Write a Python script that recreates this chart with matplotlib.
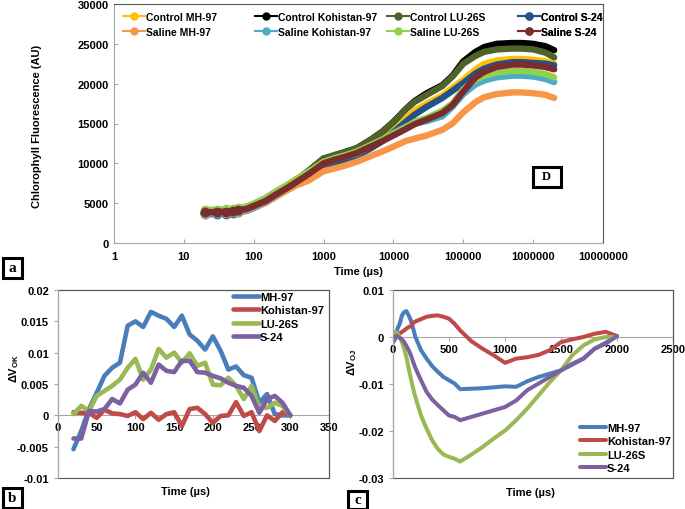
import numpy as np
import matplotlib
matplotlib.use("Agg")
import matplotlib.pyplot as plt
from matplotlib.patches import Rectangle
from matplotlib.lines import Line2D

plt.rcParams['font.family'] = ['Liberation Sans', 'DejaVu Sans']
plt.rcParams['font.weight'] = 'bold'
plt.rcParams['mathtext.default'] = 'regular'

# ---- panel a: OJIP transients ----
t_ojip = [20, 30, 40, 50, 60, 80, 100, 150, 200, 300, 400, 600, 1000, 1500, 2000, 3000,
          5000, 7000, 10000, 15000, 20000, 30000, 50000, 70000, 100000, 150000, 200000,
          300000, 500000, 700000, 1000000, 1500000, 2000000]

ctrl_mh = [3800, 3850, 3900, 3950, 4050, 4250, 4550, 5200, 5900, 6900, 7600, 8700, 10300, 10800, 11100, 11600,
           12600, 13300, 14200, 15600, 16600, 17500, 18500, 19500, 20500, 21800, 22500,
           22900, 23100, 23100, 23000, 22800, 22500]
ctrl_koh = [3800, 3850, 3900, 3950, 4050, 4250, 4600, 5300, 6000, 7000, 7800, 9000, 10600, 11000, 11400, 11900,
            13100, 14000, 15200, 16800, 17800, 18800, 19800, 21000, 22800, 24000, 24600,
            25000, 25100, 25100, 25000, 24700, 24200]
ctrl_lu = [3850, 3900, 3950, 4000, 4100, 4300, 4700, 5400, 6100, 7100, 7900, 9000, 10600, 11100, 11400, 11900,
           13100, 14000, 15200, 16800, 17700, 18600, 19700, 20900, 22500, 23500, 24000,
           24300, 24400, 24400, 24300, 23900, 23300]
ctrl_s24 = [3600, 3650, 3700, 3750, 3850, 4050, 4400, 5100, 5800, 6800, 7600, 8700, 9800, 10100, 10400, 10900,
            12000, 12800, 13900, 15200, 16100, 17100, 18200, 19100, 20100, 21300, 21900,
            22400, 22700, 22700, 22600, 22500, 22300]
sal_mh = [3700, 3750, 3800, 3850, 3900, 4100, 4450, 5050, 5700, 6600, 7200, 7800, 9000, 9400, 9700, 10200,
          11000, 11500, 12100, 12800, 13100, 13500, 14200, 15000, 16400, 17700, 18300,
          18700, 18900, 18900, 18800, 18600, 18200]
sal_koh = [3750, 3800, 3850, 3900, 4000, 4200, 4550, 5200, 5900, 6900, 7600, 8700, 10000, 10500, 10800, 11200,
           12300, 13000, 13800, 14600, 15000, 15300, 15900, 17100, 18700, 19900, 20400,
           20800, 21000, 21000, 20900, 20600, 20200]
sal_lu = [4150, 4200, 4250, 4300, 4400, 4600, 4950, 5700, 6400, 7300, 8000, 8900, 10200, 10700, 11000, 11500,
          12400, 13000, 13700, 14500, 15200, 15700, 16600, 17500, 19300, 20500, 21000,
          21400, 21600, 21600, 21500, 21200, 20800]
sal_s24 = [3850, 3900, 3950, 4000, 4100, 4300, 4650, 5300, 6000, 6900, 7600, 8600, 10000, 10500, 10800, 11300,
           12200, 12800, 13500, 14300, 14900, 15500, 16300, 17300, 19000, 20800, 21500,
           22100, 22400, 22400, 22300, 22100, 21800]

ojip_names = ['Control MH-97', 'Control Kohistan-97', 'Control LU-26S', 'Control S-24',
              'Saline MH-97', 'Saline Kohistan-97', 'Saline LU-26S', 'Saline S-24']
ojip_series = [ctrl_mh, ctrl_koh, ctrl_lu, ctrl_s24, sal_mh, sal_koh, sal_lu, sal_s24]
ojip_colors = ['#FFC000', '#000000', '#4F6228', '#24508C',
               '#F79646', '#4BACC6', '#92D050', '#7B2C2C']
top_xticks = [1, 10, 100, 1000, 10000, 100000, 1000000, 10000000]
top_yticks = [0, 5000, 10000, 15000, 20000, 25000, 30000]

# ---- panel b: delta V_OK ----
t_ok = [20, 30, 40, 50, 60, 70, 80, 90, 100, 110, 120, 130, 140, 150, 160, 170, 180, 190,
        200, 210, 220, 230, 240, 250, 260, 270, 280, 290, 300]
ok_mh = [-0.0054, -0.0025, 0.001, 0.0036, 0.0063, 0.0076, 0.0084, 0.0143, 0.015, 0.0141, 0.0165,
         0.0159, 0.0154, 0.0141, 0.0159, 0.0129, 0.0119, 0.0105, 0.0126, 0.0103, 0.0073, 0.0078,
         0.0064, 0.006, 0.002, 0.0034, 0.0002, 0.0, 0.0]
ok_koh = [0.0005, 0.0004, 0.0004, -0.0004, 0.0009, 0.0003, 0.0002, -0.0001, 0.0005, -0.0006, 0.0004,
          -0.0007, 0.0002, 0.0005, -0.0017, 0.001, 0.0012, 0.0002, -0.0012, -0.0001, 0.0, 0.0021,
          -0.0001, 0.0005, -0.0025, 0.0, -0.0009, 0.0005, 0.0]
ok_lu = [0.0002, 0.0015, 0.0007, 0.0031, 0.0039, 0.0047, 0.0057, 0.0076, 0.009, 0.0057, 0.0073,
         0.0106, 0.0092, 0.01, 0.0084, 0.0099, 0.0079, 0.0084, 0.0049, 0.0048, 0.006, 0.0047,
         0.0026, 0.0047, 0.0012, 0.0012, 0.002, 0.0015, 0.0]
ok_s24 = [-0.0037, -0.0037, 0.0007, 0.0006, 0.001, 0.0026, 0.0019, 0.0041, 0.0049, 0.0068, 0.0052,
          0.0081, 0.0071, 0.0069, 0.0087, 0.0087, 0.0069, 0.0068, 0.0063, 0.0059, 0.0052, 0.0047,
          0.0044, 0.0031, 0.0004, 0.0026, 0.0031, 0.002, 0.0]

# ---- panel c: delta V_OJ ----
t_oj = [0, 20, 40, 60, 80, 100, 120, 140, 160, 180, 200, 250, 300, 350, 400, 450, 500, 550, 600,
        700, 800, 900, 1000, 1100, 1200, 1300, 1400, 1500, 1600, 1700, 1800, 1900, 2000]
oj_mh = [-0.0012, -0.0004, 0.0018, 0.0028, 0.0046, 0.0053, 0.0055, 0.0046, 0.0035, 0.0018, 0.0,
         -0.0028, -0.0046, -0.0062, -0.0074, -0.0085, -0.0092, -0.0099, -0.0111,
         -0.011, -0.0109, -0.0107, -0.0105, -0.0106, -0.0094, -0.0085, -0.0078, -0.0071,
         -0.0059, -0.0046, -0.0025, -0.0012, 0.0002]
oj_koh = [0.0, 0.0002, 0.0005, 0.0007, 0.0011, 0.0014, 0.0018, 0.0021, 0.0023, 0.003, 0.0033,
          0.0038, 0.0043, 0.0045, 0.0046, 0.0043, 0.0039, 0.0028, 0.0014,
          -0.0009, -0.0025, -0.0039, -0.0055, -0.0046, -0.0043, -0.0038, -0.0028, -0.0011,
          -0.0005, 0.0, 0.0007, 0.0011, 0.0002]
oj_lu = [0.0005, 0.0011, 0.0007, 0.0, -0.0011, -0.0025, -0.0043, -0.0067, -0.0089, -0.011, -0.0128,
         -0.0167, -0.0195, -0.022, -0.0238, -0.025, -0.0255, -0.0259, -0.0265,
         -0.025, -0.0234, -0.0216, -0.0199, -0.0177, -0.0152, -0.0124, -0.0096, -0.0071,
         -0.0039, -0.0018, -0.0005, 0.0, 0.0]
oj_s24 = [-0.0002, 0.0002, 0.0002, -0.0002, -0.0005, -0.0011, -0.0019, -0.0028, -0.0039, -0.0053, -0.0066,
          -0.0092, -0.0117, -0.0133, -0.0145, -0.0156, -0.0167, -0.017, -0.0177,
          -0.017, -0.0163, -0.0156, -0.0149, -0.0135, -0.0113, -0.0099, -0.0085, -0.0071,
          -0.0057, -0.0046, -0.0025, -0.0014, 0.0002]

dv_names = ['MH-97', 'Kohistan-97', 'LU-26S', 'S-24']
dv_colors = ['#4A7EBB', '#BE4B48', '#98B954', '#7D60A0']

fig = plt.figure(figsize=(6.85, 5.1), dpi=100)
W, H = 685.0, 510.0


def fig_axes(x0, y0, x1, y1):
    return fig.add_axes([x0 / W, 1 - y1 / H, (x1 - x0) / W, (y1 - y0) / H])


def box_label(cx, cy, w, h, s, size=11):
    fig.add_artist(Rectangle(((cx - w / 2) / W, 1 - (cy + h / 2) / H), w / W, h / H,
                             transform=fig.transFigure, fill=True, fc='white',
                             ec='black', lw=2.2))
    fig.text(cx / W, 1 - cy / H, s, ha='center', va='center', fontsize=size,
             family=['Liberation Serif', 'DejaVu Serif'], fontweight='bold')


def style_frame(ax):
    for s in ax.spines.values():
        s.set_color('#555555')
        s.set_linewidth(0.8)
    ax.spines['left'].set_color('#A6A6A6')
    ax.spines['bottom'].set_color('#A6A6A6')
    for lab in ax.get_xticklabels() + ax.get_yticklabels():
        lab.set_fontweight('bold')


# top panel
ax = fig_axes(114, 5, 603, 244)
for name, vals, col in zip(ojip_names, ojip_series, ojip_colors):
    ax.plot(t_ojip, vals, color=col, lw=4.6, solid_capstyle='round', zorder=3)
    ax.plot(t_ojip[:5], vals[:5], color=col, lw=2, marker='o', ms=6, zorder=3)
ax.set_xscale('log')
ax.set_xlim(1, 1e7)
ax.set_ylim(0, 30000)
ax.set_xticks(top_xticks)
ax.set_xticklabels([str(v) for v in top_xticks])
ax.xaxis.set_minor_locator(matplotlib.ticker.NullLocator())
ax.set_yticks(top_yticks)
ax.set_yticklabels([str(v) for v in top_yticks])
ax.tick_params(labelsize=8, direction='in', length=3, color='#A6A6A6', pad=4)
ax.tick_params(axis='x', pad=6)
style_frame(ax)

handles = [Line2D([0], [0], color=c, lw=1.5, marker='o', ms=5) for c in ojip_colors]
col_x = [0.018, 0.288, 0.558, 0.826]
for i in range(4):
    leg = ax.legend([handles[i], handles[i + 4]], [ojip_names[i], ojip_names[i + 4]],
                    loc='upper left', bbox_to_anchor=(col_x[i], 0.968), frameon=False,
                    prop={'size': 7.5, 'weight': 'bold'}, handlelength=2.1,
                    handletextpad=0.15, labelspacing=0.5,
                    borderaxespad=0.0, borderpad=0.0)
    ax.add_artist(leg)

fig.text(358 / W, 1 - 272 / H, 'Time (µs)', ha='center', va='center', fontsize=8,
         fontweight='bold')
fig.text(37 / W, 1 - 126 / H, 'Chlorophyll Fluorescence (AU)', ha='center', va='center',
         rotation=90, fontsize=8, fontweight='bold')


def dv_panel(x0, x1, t, series, xlim, xticks, ylim, yticks, ylabels, leg_anchor, lw):
    a = fig_axes(x0, 291, x1, 479)
    for name, vals, col in zip(dv_names, series, dv_colors):
        a.plot(t, vals, color=col, lw=lw, label=name, solid_capstyle='round',
               solid_joinstyle='round', zorder=3)
    a.set_xlim(*xlim)
    a.set_ylim(*ylim)
    a.set_xticks(xticks)
    a.set_xticklabels([str(v) for v in xticks])
    a.set_yticks(yticks)
    a.set_yticklabels(ylabels)
    style_frame(a)
    a.spines['bottom'].set_position(('data', 0))
    a.spines['bottom'].set_zorder(2)
    a.add_patch(Rectangle((0, 0), 1, 1, transform=a.transAxes, fill=False,
                          ec='#555555', lw=0.8, clip_on=False, zorder=1))
    a.spines['left'].set_zorder(4)
    a.tick_params(labelsize=8, length=3, color='#A6A6A6')
    a.tick_params(axis='x', pad=2)
    a.legend(loc='upper left', bbox_to_anchor=leg_anchor, frameon=False,
             prop={'size': 8, 'weight': 'bold'},
             handlelength=2.3, handletextpad=0.15, labelspacing=0.3,
             borderaxespad=0.0, borderpad=0.0)
    return a


dv_panel(58, 329, t_ok, [ok_mh, ok_koh, ok_lu, ok_s24], (0, 350),
         [0, 50, 100, 150, 200, 250, 300, 350], (-0.01, 0.02),
         [-0.01, -0.005, 0, 0.005, 0.01, 0.015, 0.02],
         ['-0.01', '-0.005', '0', '0.005', '0.01', '0.015', '0.02'],
         ((233 - 58) / 271.0, 1 - (293 - 291) / 188.0), 3.3)
dv_panel(393, 673, t_oj, [oj_mh, oj_koh, oj_lu, oj_s24], (0, 2500),
         [0, 500, 1000, 1500, 2000, 2500], (-0.03, 0.01),
         [-0.03, -0.02, -0.01, 0, 0.01],
         ['-0.03', '-0.02', '-0.01', '0', '0.01'],
         ((580 - 393) / 280.0, 1 - (424 - 291) / 188.0), 2.9)

fig.text(185 / W, 1 - 492 / H, 'Time (µs)', ha='center', va='center', fontsize=8,
         fontweight='bold')
fig.text(530 / W, 1 - 493 / H, 'Time (µs)', ha='center', va='center', fontsize=8,
         fontweight='bold')
fig.text(14 / W, 1 - 368 / H, 'ΔV$_{OK}$', ha='center', va='center', rotation=90,
         fontsize=8, fontweight='bold')
fig.text(352 / W, 1 - 362 / H, 'ΔV$_{OJ}$', ha='center', va='center', rotation=90,
         fontsize=8, fontweight='bold')

box_label(12.5, 268.5, 19, 20, 'a')
box_label(12.5, 499, 19, 20, 'b')
box_label(357.5, 501, 19, 18, 'c')
box_label(546.5, 177.5, 28, 20, 'D', size=9)

fig.savefig('out.png', dpi=100)
